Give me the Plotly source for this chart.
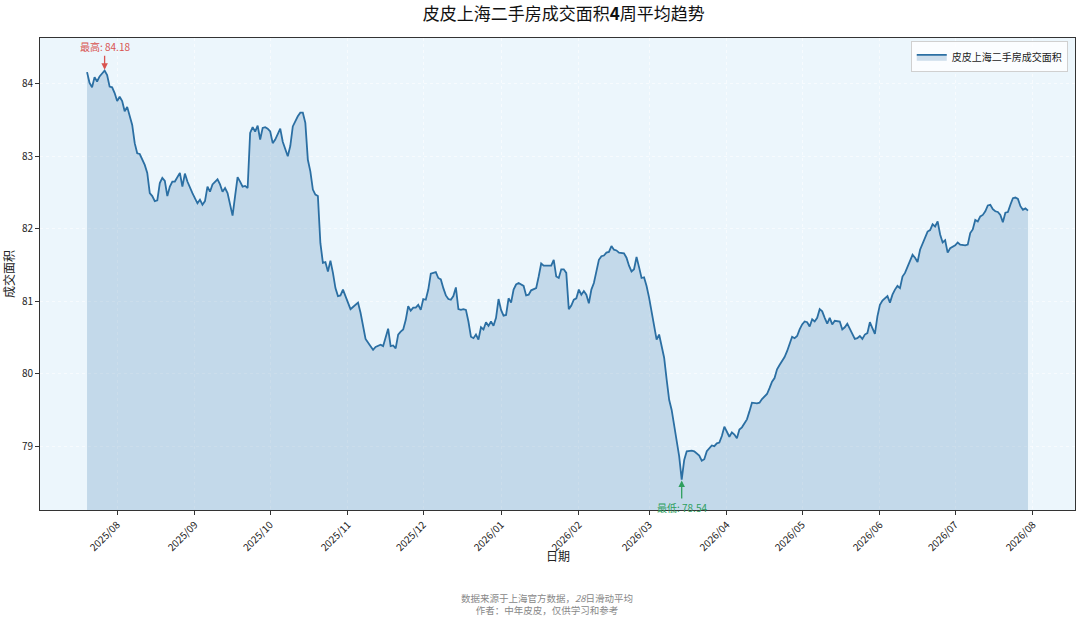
import pandas as pd
import plotly.graph_objects as go

# Colores
LINE_COLOR = "#2b6fa3"
FILL_COLOR = "rgba(70,130,180,0.25)"
PLOT_BG = "#ecf6fc"
MAX_COLOR = "#d9534f"
MIN_COLOR = "#2e9e5e"
FONT = "Noto Sans CJK SC, DejaVu Sans, sans-serif"

# Datos: 28日滑动平均（读图估算）
dates = [
    # 2025-07
    "2025-07-20", "2025-07-21", "2025-07-22", "2025-07-23", "2025-07-24", "2025-07-25",
    "2025-07-26", "2025-07-27", "2025-07-28", "2025-07-29", "2025-07-30", "2025-07-31",
    # 2025-08
    "2025-08-01", "2025-08-02", "2025-08-03", "2025-08-04", "2025-08-05", "2025-08-06",
    "2025-08-07", "2025-08-08", "2025-08-09", "2025-08-10", "2025-08-11", "2025-08-12",
    "2025-08-13", "2025-08-14", "2025-08-15", "2025-08-16", "2025-08-17", "2025-08-18",
    "2025-08-19", "2025-08-20", "2025-08-21", "2025-08-22", "2025-08-23", "2025-08-24",
    "2025-08-26", "2025-08-27", "2025-08-28", "2025-08-29", "2025-08-31",
    # 2025-09
    "2025-09-02", "2025-09-03", "2025-09-04", "2025-09-05", "2025-09-06", "2025-09-07",
    "2025-09-08", "2025-09-10", "2025-09-11", "2025-09-12", "2025-09-13", "2025-09-14",
    "2025-09-15", "2025-09-16", "2025-09-17", "2025-09-18", "2025-09-19", "2025-09-20",
    "2025-09-21", "2025-09-22", "2025-09-23", "2025-09-24", "2025-09-25", "2025-09-26",
    "2025-09-27", "2025-09-28", "2025-09-29", "2025-09-30",
    # 2025-10
    "2025-10-01", "2025-10-02", "2025-10-03", "2025-10-05", "2025-10-06", "2025-10-08",
    "2025-10-09", "2025-10-10", "2025-10-12", "2025-10-13", "2025-10-14", "2025-10-15",
    "2025-10-16", "2025-10-17", "2025-10-18", "2025-10-19", "2025-10-20", "2025-10-21",
    "2025-10-22", "2025-10-23", "2025-10-24", "2025-10-25", "2025-10-26", "2025-10-27",
    "2025-10-28", "2025-10-29", "2025-10-30",
    # 2025-11
    "2025-11-01", "2025-11-02", "2025-11-03", "2025-11-05", "2025-11-06", "2025-11-07",
    "2025-11-08", "2025-11-10", "2025-11-11", "2025-11-12", "2025-11-14", "2025-11-15",
    "2025-11-16", "2025-11-17", "2025-11-18", "2025-11-19", "2025-11-20", "2025-11-21",
    "2025-11-22", "2025-11-23", "2025-11-24", "2025-11-25", "2025-11-26", "2025-11-27",
    "2025-11-28", "2025-11-29", "2025-11-30",
    # 2025-12
    "2025-12-01", "2025-12-02", "2025-12-03", "2025-12-04", "2025-12-05", "2025-12-06",
    "2025-12-07", "2025-12-08", "2025-12-09", "2025-12-10", "2025-12-11", "2025-12-12",
    "2025-12-13", "2025-12-14", "2025-12-15", "2025-12-16", "2025-12-17", "2025-12-18",
    "2025-12-19", "2025-12-20", "2025-12-21", "2025-12-22", "2025-12-23", "2025-12-24",
    "2025-12-25", "2025-12-26", "2025-12-27", "2025-12-28", "2025-12-29", "2025-12-30",
    "2025-12-31",
    # 2026-01
    "2026-01-01", "2026-01-02", "2026-01-03", "2026-01-04", "2026-01-05", "2026-01-06",
    "2026-01-07", "2026-01-08", "2026-01-10", "2026-01-11", "2026-01-12", "2026-01-13",
    "2026-01-15", "2026-01-16", "2026-01-17", "2026-01-18", "2026-01-19", "2026-01-21",
    "2026-01-22", "2026-01-23", "2026-01-24", "2026-01-25", "2026-01-26", "2026-01-27",
    "2026-01-28", "2026-01-29", "2026-01-30", "2026-01-31",
    # 2026-02
    "2026-02-01", "2026-02-02", "2026-02-03", "2026-02-04", "2026-02-05", "2026-02-06",
    "2026-02-07", "2026-02-08", "2026-02-09", "2026-02-10", "2026-02-11", "2026-02-12",
    "2026-02-13", "2026-02-14", "2026-02-15", "2026-02-16", "2026-02-17", "2026-02-19",
    "2026-02-20", "2026-02-21", "2026-02-22", "2026-02-23", "2026-02-24", "2026-02-25",
    "2026-02-26", "2026-02-27", "2026-02-28",
    # 2026-03
    "2026-03-01", "2026-03-02", "2026-03-03", "2026-03-04", "2026-03-05", "2026-03-06",
    "2026-03-07", "2026-03-08", "2026-03-09", "2026-03-10", "2026-03-11", "2026-03-12",
    "2026-03-13", "2026-03-14", "2026-03-15", "2026-03-16", "2026-03-18", "2026-03-19",
    "2026-03-21", "2026-03-22", "2026-03-23", "2026-03-24", "2026-03-25", "2026-03-26",
    "2026-03-27", "2026-03-28", "2026-03-29", "2026-03-30", "2026-03-31",
    # 2026-04
    "2026-04-01", "2026-04-02", "2026-04-03", "2026-04-04", "2026-04-05", "2026-04-06",
    "2026-04-07", "2026-04-09", "2026-04-10", "2026-04-11", "2026-04-13", "2026-04-14",
    "2026-04-15", "2026-04-16", "2026-04-17", "2026-04-18", "2026-04-19", "2026-04-20",
    "2026-04-21", "2026-04-22", "2026-04-24", "2026-04-25", "2026-04-26", "2026-04-27",
    "2026-04-28", "2026-04-29", "2026-04-30",
    # 2026-05
    "2026-05-01", "2026-05-02", "2026-05-03", "2026-05-04", "2026-05-05", "2026-05-06",
    "2026-05-07", "2026-05-08", "2026-05-09", "2026-05-10", "2026-05-11", "2026-05-12",
    "2026-05-13", "2026-05-14", "2026-05-15", "2026-05-16", "2026-05-17", "2026-05-18",
    "2026-05-19", "2026-05-20", "2026-05-21", "2026-05-22", "2026-05-23", "2026-05-24",
    "2026-05-25", "2026-05-26", "2026-05-27", "2026-05-28", "2026-05-29", "2026-05-30",
    "2026-05-31",
    # 2026-06
    "2026-06-01", "2026-06-02", "2026-06-03", "2026-06-04", "2026-06-05", "2026-06-06",
    "2026-06-07", "2026-06-08", "2026-06-09", "2026-06-10", "2026-06-11", "2026-06-12",
    "2026-06-13", "2026-06-14", "2026-06-15", "2026-06-16", "2026-06-17", "2026-06-18",
    "2026-06-19", "2026-06-20", "2026-06-21", "2026-06-22", "2026-06-23", "2026-06-24",
    "2026-06-25", "2026-06-26", "2026-06-27", "2026-06-28", "2026-06-29", "2026-06-30",
    # 2026-07
    "2026-07-01", "2026-07-02", "2026-07-03", "2026-07-05", "2026-07-06", "2026-07-07",
    "2026-07-08", "2026-07-09", "2026-07-10", "2026-07-11", "2026-07-12", "2026-07-13",
    "2026-07-14", "2026-07-15", "2026-07-16", "2026-07-17", "2026-07-18", "2026-07-19",
    "2026-07-20", "2026-07-21", "2026-07-22", "2026-07-23", "2026-07-24", "2026-07-25",
    "2026-07-26", "2026-07-27", "2026-07-28", "2026-07-29", "2026-07-30",
]

area = [
    # 2025-07
    84.16, 84.01, 83.95, 84.09, 84.03, 84.10, 84.14, 84.18, 84.12, 83.96, 83.95, 83.87,
    # 2025-08
    83.76, 83.82, 83.76, 83.62, 83.68, 83.55, 83.43, 83.18, 83.04, 83.03, 82.95, 82.88,
    82.77, 82.49, 82.45, 82.38, 82.39, 82.63, 82.70, 82.66, 82.45, 82.58, 82.65, 82.65,
    82.77, 82.58, 82.76, 82.65, 82.49,
    # 2025-09
    82.35, 82.40, 82.33, 82.38, 82.58, 82.51, 82.61, 82.68, 82.61, 82.51, 82.56, 82.49,
    82.31, 82.18, 82.45, 82.71, 82.65, 82.58, 82.59, 82.56, 83.32, 83.40, 83.34, 83.42,
    83.23, 83.39, 83.40, 83.38,
    # 2025-10
    83.34, 83.18, 83.23, 83.38, 83.20, 83.00, 83.14, 83.41, 83.55, 83.60, 83.60, 83.46,
    82.95, 82.79, 82.54, 82.47, 82.45, 81.80, 81.53, 81.54, 81.41, 81.56, 81.39, 81.18,
    81.07, 81.08, 81.16,
    # 2025-11
    80.98, 80.89, 80.92, 80.98, 80.84, 80.65, 80.48, 80.38, 80.33, 80.37, 80.40, 80.38,
    80.51, 80.62, 80.38, 80.39, 80.35, 80.54, 80.58, 80.61, 80.74, 80.93, 80.87, 80.91,
    80.91, 80.95, 80.88,
    # 2025-12
    81.03, 81.02, 81.16, 81.38, 81.39, 81.40, 81.32, 81.30, 81.18, 81.08, 81.03, 81.02,
    81.07, 81.19, 80.89, 80.88, 80.89, 80.88, 80.72, 80.51, 80.49, 80.54, 80.47, 80.64,
    80.61, 80.71, 80.66, 80.72, 80.66, 80.77, 81.03,
    # 2026-01
    80.88, 80.80, 80.81, 81.04, 80.98, 81.16, 81.23, 81.25, 81.21, 81.08, 81.09, 81.15,
    81.18, 81.34, 81.52, 81.49, 81.49, 81.49, 81.57, 81.34, 81.32, 81.44, 81.44, 81.39,
    80.89, 80.94, 81.02, 81.04,
    # 2026-02
    81.16, 81.09, 81.14, 81.09, 80.97, 81.16, 81.25, 81.39, 81.57, 81.62, 81.63, 81.67,
    81.68, 81.76, 81.71, 81.70, 81.67, 81.66, 81.60, 81.49, 81.41, 81.44, 81.61, 81.47,
    81.32, 81.33, 81.21,
    # 2026-03
    81.05, 80.86, 80.63, 80.47, 80.54, 80.38, 80.22, 79.92, 79.64, 79.50, 79.27, 79.09,
    78.86, 78.54, 78.81, 78.93, 78.94, 78.93, 78.87, 78.80, 78.82, 78.93, 78.97, 79.01,
    79.00, 79.04, 79.05, 79.14, 79.27,
    # 2026-04
    79.20, 79.13, 79.19, 79.16, 79.11, 79.23, 79.26, 79.37, 79.48, 79.60, 79.59, 79.60,
    79.65, 79.69, 79.72, 79.80, 79.89, 79.94, 80.06, 80.12, 80.23, 80.31, 80.40, 80.51,
    80.49, 80.52, 80.61,
    # 2026-05
    80.68, 80.72, 80.71, 80.65, 80.75, 80.72, 80.77, 80.89, 80.86, 80.77, 80.69, 80.77,
    80.68, 80.73, 80.72, 80.72, 80.61, 80.64, 80.69, 80.62, 80.56, 80.48, 80.49, 80.52,
    80.48, 80.54, 80.56, 80.71, 80.63, 80.55, 80.79,
    # 2026-06
    80.95, 81.01, 81.04, 81.07, 80.98, 81.09, 81.16, 81.21, 81.18, 81.34, 81.39, 81.47,
    81.55, 81.64, 81.60, 81.54, 81.71, 81.80, 81.89, 81.96, 81.98, 82.06, 82.03, 82.10,
    81.92, 81.81, 81.84, 81.67, 81.73, 81.75,
    # 2026-07
    81.77, 81.81, 81.78, 81.77, 81.78, 81.94, 81.99, 82.12, 82.10, 82.17, 82.19, 82.24,
    82.32, 82.33, 82.27, 82.24, 82.23, 82.19, 82.09, 82.22, 82.23, 82.33, 82.42, 82.43,
    82.41, 82.31, 82.26, 82.28, 82.25,
]

df = pd.DataFrame({"date": pd.to_datetime(dates), "area": area})

# Rango de ejes (margen 5% en x como matplotlib)
span = df["date"].max() - df["date"].min()
x_range = [df["date"].min() - span * 0.05, df["date"].max() + span * 0.05]
y_range = [78.12, 84.63]

fig = go.Figure()

fig.add_trace(go.Scatter(
    x=df["date"],
    y=df["area"],
    mode="lines",
    name="皮皮上海二手房成交面积",
    line=dict(color=LINE_COLOR, width=1.8),
    fill="tozeroy",
    fillcolor=FILL_COLOR,
))

# Máximo y mínimo
i_max = df["area"].idxmax()
i_min = df["area"].idxmin()

fig.add_annotation(
    x=df.loc[i_max, "date"], y=df.loc[i_max, "area"],
    text=f"最高: {df.loc[i_max, 'area']:.2f}",
    showarrow=True, ax=0, ay=-24,
    arrowhead=2, arrowsize=1, arrowwidth=1.3, arrowcolor=MAX_COLOR, standoff=1,
    font=dict(color=MAX_COLOR, size=10, family=FONT),
)
fig.add_annotation(
    x=df.loc[i_min, "date"], y=df.loc[i_min, "area"],
    text=f"最低: {df.loc[i_min, 'area']:.2f}",
    showarrow=True, ax=0, ay=28,
    arrowhead=2, arrowsize=1, arrowwidth=1.3, arrowcolor=MIN_COLOR, standoff=1,
    font=dict(color=MIN_COLOR, size=10, family=FONT),
)

# Título del eje x y nota al pie
fig.add_annotation(
    x=0.5, y=-0.097, xref="paper", yref="paper",
    xanchor="center", yanchor="middle",
    text="日期", showarrow=False,
    font=dict(color="#222222", size=12, family=FONT),
)
fig.add_annotation(
    x=0.49, y=-0.168, xref="paper", yref="paper",
    xanchor="center", yanchor="top",
    text="数据来源于上海官方数据，<i>28</i>日滑动平均<br>作者：中年皮皮，仅供学习和参考",
    showarrow=False, align="center",
    font=dict(color="#888888", size=9.5, family=FONT),
)

fig.update_layout(
    width=1080,
    height=621,
    margin=dict(l=40, r=5, t=38, b=111),
    title=dict(
        text="皮皮上海二手房成交面积<b>4</b>周平均趋势",
        x=0.522, xanchor="center", y=0.977, yanchor="middle",
        font=dict(size=17, color="#111111", family=FONT),
    ),
    paper_bgcolor="white",
    plot_bgcolor=PLOT_BG,
    font=dict(family=FONT, size=10, color="#222222"),
    showlegend=True,
    legend=dict(
        x=0.993, y=0.993, xanchor="right", yanchor="top",
        bgcolor="rgba(255,255,255,0.8)", bordercolor="#d0d0d0", borderwidth=1,
        font=dict(size=10, family=FONT),
    ),
)

fig.update_xaxes(
    range=x_range,
    automargin=False,
    tickformat="%Y/%m",
    dtick="M1",
    tick0="2025-08-01",
    tickangle=-45,
    ticks="outside", ticklen=4, tickcolor="#333333",
    showline=True, linecolor="#333333", linewidth=1, mirror=True,
    showgrid=True, gridcolor="rgba(255,255,255,0.6)", griddash="dot",
    tickfont=dict(size=10),
)

fig.update_yaxes(
    range=y_range,
    automargin=False,
    dtick=1,
    ticks="outside", ticklen=4, tickcolor="#333333",
    showline=True, linecolor="#333333", linewidth=1, mirror=True,
    showgrid=True, gridcolor="rgba(255,255,255,0.6)", griddash="dot",
    zeroline=False,
    title=dict(text="成交面积", font=dict(size=12, family=FONT), standoff=4),
    tickfont=dict(size=10),
)

# Sin barra de herramientas y sin margen del body
fig.write_html(
    "out.html",
    config={"displayModeBar": False},
    post_script="document.body.style.margin = '0';",
)
